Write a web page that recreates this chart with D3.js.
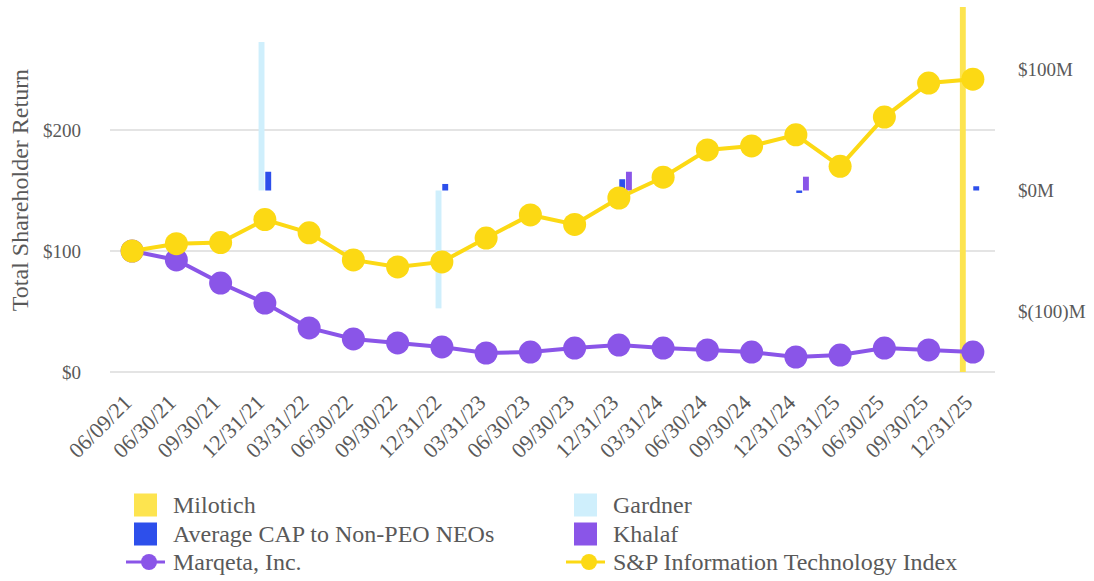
<!DOCTYPE html>
<html>
<head>
<meta charset="utf-8">
<script src="https://cdn.jsdelivr.net/npm/d3@7"></script>
<style>
    body { margin: 0; background: #fff; }
    text { font-family: "Liberation Serif", "Times New Roman", serif; fill: #595959; }
</style>
</head>
<body>
<div id="chart"></div>
<script>
// x categories (quarter ends)
var dates = ["06/09/21", "06/30/21", "09/30/21", "12/31/21", "03/31/22", "06/30/22", "09/30/22",
    "12/31/22", "03/31/23", "06/30/23", "09/30/23", "12/31/23", "03/31/24", "06/30/24",
    "09/30/24", "12/31/24", "03/31/25", "06/30/25", "09/30/25", "12/31/25"];

// total shareholder return, $100 invested
var marqeta = [100, 92.6, 73.5, 57, 36.4, 27.3, 24, 20.7, 15.7, 16.5, 19.8, 22.3, 19.8, 18.2, 16.5, 12.4, 14, 19.8, 18.2, 16.5];
var spIt = [100, 106, 107, 126, 115, 92.6, 86.8, 91, 110.7, 129.8, 122, 143.8, 161, 183.5, 186.8, 196, 170, 210.7, 238.8, 242];

// compensation actually paid, $M (year ends only)
var capDates = ["12/31/21", "12/31/22", "12/31/23", "12/31/24", "12/31/25"];
var milotich = [null, null, null, null, [-150, 152]];
var gardner = [122.7, -97.4, null, null, null];
var avgNonPeo = [15.5, 5.4, 9.3, -2, 3.5];
var khalaf = [null, null, 15.5, 11.4, null];

var leftTicks = [0, 100, 200];
var rightTicks = [-100, 0, 100];

var colors = {
    milotich: "#fde44f",
    gardner: "#cfeffc",
    avg: "#2d4feb",
    khalaf: "#8a55e8",
    marqeta: "#8a55e8",
    sp: "#fcd914"
};

var width = 1094, height = 581;
var margin = { top: 9, right: 99, bottom: 209, left: 110 };
var plotW = width - margin.left - margin.right;
var plotH = height - margin.top - margin.bottom;

var svg = d3.select("#chart").append("svg")
    .attr("width", width)
    .attr("height", height);

var g = svg.append("g")
    .attr("transform", "translate(" + margin.left + "," + margin.top + ")");

var x = d3.scaleBand().domain(dates).range([0, plotW]);
var yL = d3.scaleLinear().domain([0, 300]).range([plotH, 0]);
var yR = d3.scaleLinear().domain([-150, 150]).range([plotH, 0]);

var barKeys = ["milotich", "gardner", "avg", "khalaf"];
var xInner = d3.scaleBand().domain(barKeys).range([-13, 13]).paddingInner(0.12);

// gridlines
g.selectAll(".grid")
    .data(leftTicks)
    .enter()
    .append("line")
    .attr("x1", 0)
    .attr("x2", plotW)
    .attr("y1", function (d) { return yL(d); })
    .attr("y2", function (d) { return yL(d); })
    .attr("stroke", "#e4e4e4")
    .attr("stroke-width", 2);

// left axis labels
var leftAxis = d3.axisLeft(yL).tickValues(leftTicks).tickSize(0).tickPadding(29)
    .tickFormat(function (d) { return "$" + d; });
g.append("g").call(leftAxis)
    .call(function (a) { a.select(".domain").remove(); })
    .selectAll("text")
    .style("font-size", "19px");

// right axis labels
var rightAxis = d3.axisRight(yR).tickValues(rightTicks).tickSize(0).tickPadding(23)
    .tickFormat(function (d) { return d < 0 ? "$(" + (-d) + ")M" : "$" + d + "M"; });
g.append("g")
    .attr("transform", "translate(" + plotW + ",0)")
    .call(rightAxis)
    .call(function (a) { a.select(".domain").remove(); })
    .selectAll("text")
    .style("font-size", "19px");

// bottom axis labels
var bottomAxis = d3.axisBottom(x).tickSize(0).tickPadding(0);
g.append("g")
    .attr("transform", "translate(0," + plotH + ")")
    .call(bottomAxis)
    .call(function (a) { a.select(".domain").remove(); })
    .selectAll("text")
    .style("font-size", "22px")
    .style("text-anchor", "end")
    .attr("dy", 0)
    .attr("transform", "translate(1,32) rotate(-45)");

// y axis title
svg.append("text")
    .attr("transform", "translate(28," + (margin.top + 181) + ") rotate(-90)")
    .style("text-anchor", "middle")
    .style("font-size", "24px")
    .text("Total Shareholder Return");

// bars
var barSeries = { milotich: milotich, gardner: gardner, avg: avgNonPeo, khalaf: khalaf };
var barData = [];
barKeys.forEach(function (k) {
    barSeries[k].forEach(function (v, i) {
        if (v === null) return;
        var lo = Array.isArray(v) ? v[0] : Math.min(0, v);
        var hi = Array.isArray(v) ? v[1] : Math.max(0, v);
        barData.push({ key: k, date: capDates[i], lo: lo, hi: hi });
    });
});

g.selectAll(".bar")
    .data(barData)
    .enter()
    .append("rect")
    .attr("class", "bar")
    .attr("x", function (d) { return x(d.date) + x.bandwidth() / 2 + xInner(d.key); })
    .attr("width", xInner.bandwidth())
    .attr("y", function (d) { return Math.max(yR(d.hi), -2); })
    .attr("height", function (d) { return Math.max(1.5, yR(d.lo) - Math.max(yR(d.hi), -2)); })
    .attr("fill", function (d) { return colors[d.key]; });

// lines
function drawSeries(values, color) {
    var pts = values.map(function (v, i) { return { date: dates[i], v: v }; });
    var line = d3.line()
        .x(function (d) { return x(d.date) + x.bandwidth() / 2; })
        .y(function (d) { return yL(d.v); });
    g.append("path")
        .datum(pts)
        .attr("d", line)
        .attr("fill", "none")
        .attr("stroke", color)
        .attr("stroke-width", 4);
    g.selectAll(null)
        .data(pts)
        .enter()
        .append("circle")
        .attr("cx", function (d) { return x(d.date) + x.bandwidth() / 2; })
        .attr("cy", function (d) { return yL(d.v); })
        .attr("r", 11.5)
        .attr("fill", color);
}
drawSeries(marqeta, colors.marqeta);
drawSeries(spIt, colors.sp);

// legend
var legendItems = [
    { label: "Milotich", color: colors.milotich, type: "box", col: 0, row: 0 },
    { label: "Gardner", color: colors.gardner, type: "box", col: 1, row: 0 },
    { label: "Average CAP to Non-PEO NEOs", color: colors.avg, type: "box", col: 0, row: 1 },
    { label: "Khalaf", color: colors.khalaf, type: "box", col: 1, row: 1 },
    { label: "Marqeta, Inc.", color: colors.marqeta, type: "line", col: 0, row: 2 },
    { label: "S&P Information Technology Index", color: colors.sp, type: "line", col: 1, row: 2 }
];
var colX = [134, 574];
var rowY = [505, 534, 562];

var legend = svg.selectAll(".legend")
    .data(legendItems)
    .enter()
    .append("g")
    .attr("class", "legend")
    .attr("transform", function (d) { return "translate(" + colX[d.col] + "," + rowY[d.row] + ")"; });

legend.filter(function (d) { return d.type === "box"; })
    .append("rect")
    .attr("x", 0)
    .attr("y", -11.5)
    .attr("width", 23)
    .attr("height", 23)
    .attr("fill", function (d) { return d.color; });

legend.filter(function (d) { return d.type === "line"; })
    .append("line")
    .attr("x1", -8)
    .attr("x2", 31)
    .attr("stroke", function (d) { return d.color; })
    .attr("stroke-width", 3);

legend.filter(function (d) { return d.type === "line"; })
    .append("circle")
    .attr("cx", 15)
    .attr("r", 8)
    .attr("fill", function (d) { return d.color; });

legend.append("text")
    .attr("x", 39)
    .attr("dy", "0.35em")
    .style("font-size", "24px")
    .text(function (d) { return d.label; });
</script>
</body>
</html>
